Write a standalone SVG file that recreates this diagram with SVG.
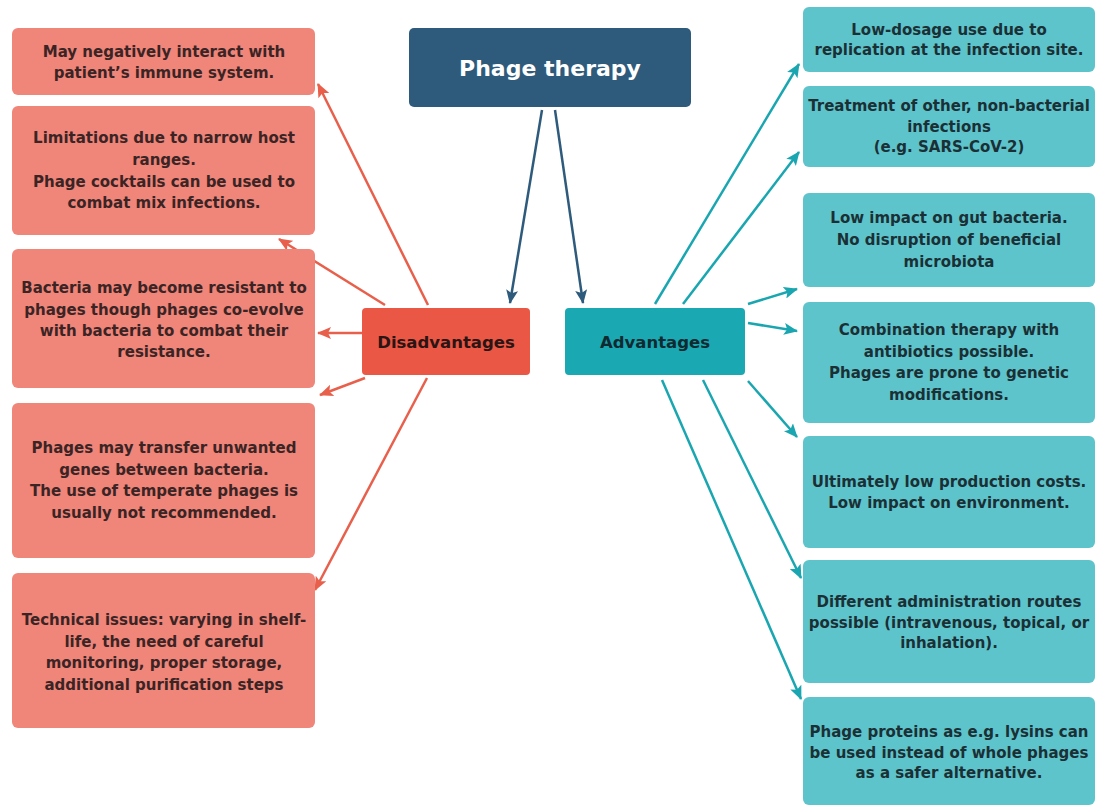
<svg xmlns="http://www.w3.org/2000/svg" width="1097" height="807" viewBox="0 0 1097 807">
<style>
text{font-family:"DejaVu Sans","Liberation Sans",sans-serif;font-weight:bold;text-anchor:middle}
.t{font-size:15px}
.dl{fill:#3a2424}
.al{fill:#1b3035}
.lb{fill:#f0857a}
.rb{fill:#5ec4cc}
.rl{stroke:#e8604c;stroke-width:2.5;fill:none}
.tl{stroke:#1aa6b0;stroke-width:2.5;fill:none}
.bl{stroke:#2e5a7c;stroke-width:2.5;fill:none}
</style>
<defs>
<marker id="ar" markerUnits="userSpaceOnUse" markerWidth="14" markerHeight="12" refX="13" refY="6" orient="auto"><path d="M0,0 L14,6 L0,12 L3,6 z" fill="#e8604c"/></marker>
<marker id="at" markerUnits="userSpaceOnUse" markerWidth="14" markerHeight="12" refX="13" refY="6" orient="auto"><path d="M0,0 L14,6 L0,12 L3,6 z" fill="#1aa6b0"/></marker>
<marker id="ab" markerUnits="userSpaceOnUse" markerWidth="14" markerHeight="12" refX="13" refY="6" orient="auto"><path d="M0,0 L14,6 L0,12 L3,6 z" fill="#2e5a7c"/></marker>
</defs>
<rect width="1097" height="807" fill="#ffffff"/>
<g id="connectors">
<line class="bl" x1="542" y1="110" x2="510" y2="303" marker-end="url(#ab)"/>
<line class="bl" x1="555" y1="110" x2="583" y2="303" marker-end="url(#ab)"/>
<line class="rl" x1="428" y1="305" x2="318" y2="84" marker-end="url(#ar)"/>
<line class="rl" x1="385" y1="305" x2="279" y2="239" marker-end="url(#ar)"/>
<line class="rl" x1="362" y1="333" x2="318" y2="333" marker-end="url(#ar)"/>
<line class="rl" x1="365" y1="378" x2="320" y2="395" marker-end="url(#ar)"/>
<line class="rl" x1="427" y1="378" x2="315" y2="590" marker-end="url(#ar)"/>
<line class="tl" x1="655" y1="304" x2="799" y2="64" marker-end="url(#at)"/>
<line class="tl" x1="683" y1="304" x2="799" y2="152" marker-end="url(#at)"/>
<line class="tl" x1="748" y1="304" x2="797" y2="289" marker-end="url(#at)"/>
<line class="tl" x1="748" y1="323" x2="797" y2="331" marker-end="url(#at)"/>
<line class="tl" x1="748" y1="381" x2="797" y2="437" marker-end="url(#at)"/>
<line class="tl" x1="703" y1="380" x2="801" y2="578" marker-end="url(#at)"/>
<line class="tl" x1="662" y1="380" x2="801" y2="699" marker-end="url(#at)"/>
</g>
<g id="title">
<rect x="409" y="28" width="282" height="79" rx="5" fill="#2e5a7c"/>
<text x="550" y="76" style="font-size:22px" fill="#ffffff">Phage therapy</text>
</g>
<g id="disadvantages">
<rect x="362" y="308" width="168" height="67" rx="4" fill="#ea5744"/>
<text x="446" y="348" style="font-size:16.5px" fill="#2a1414">Disadvantages</text>
</g>
<g id="advantages">
<rect x="565" y="308" width="180" height="67" rx="4" fill="#1aa8b3"/>
<text x="655" y="348" style="font-size:16.5px" fill="#0f2a30">Advantages</text>
</g>
<g id="d1">
<rect class="lb" x="12" y="28" width="303" height="67" rx="6"/>
<text class="t dl" x="164" y="57">May negatively interact with</text>
<text class="t dl" x="164" y="78">patient’s immune system.</text>
</g>
<g id="d2">
<rect class="lb" x="12" y="106" width="303" height="129" rx="6"/>
<text class="t dl" x="164" y="143">Limitations due to narrow host</text>
<text class="t dl" x="164" y="165">ranges.</text>
<text class="t dl" x="164" y="187">Phage cocktails can be used to</text>
<text class="t dl" x="164" y="208">combat mix infections.</text>
</g>
<g id="d3">
<rect class="lb" x="12" y="249" width="303" height="139" rx="6"/>
<text class="t dl" x="164" y="293">Bacteria may become resistant to</text>
<text class="t dl" x="164" y="315">phages though phages co-evolve</text>
<text class="t dl" x="164" y="336">with bacteria to combat their</text>
<text class="t dl" x="164" y="357">resistance.</text>
</g>
<g id="d4">
<rect class="lb" x="12" y="403" width="303" height="155" rx="6"/>
<text class="t dl" x="164" y="453">Phages may transfer unwanted</text>
<text class="t dl" x="164" y="475">genes between bacteria.</text>
<text class="t dl" x="164" y="496">The use of temperate phages is</text>
<text class="t dl" x="164" y="518">usually not recommended.</text>
</g>
<g id="d5">
<rect class="lb" x="12" y="573" width="303" height="155" rx="6"/>
<text class="t dl" x="164" y="625">Technical issues: varying in shelf-</text>
<text class="t dl" x="164" y="647">life, the need of careful</text>
<text class="t dl" x="164" y="668">monitoring, proper storage,</text>
<text class="t dl" x="164" y="690">additional purification steps</text>
</g>
<g id="a1">
<rect class="rb" x="803" y="7" width="292" height="65" rx="6"/>
<text class="t al" x="949" y="35">Low-dosage use due to</text>
<text class="t al" x="949" y="55">replication at the infection site.</text>
</g>
<g id="a2">
<rect class="rb" x="803" y="86" width="292" height="81" rx="6"/>
<text class="t al" x="949" y="111">Treatment of other, non-bacterial</text>
<text class="t al" x="949" y="132">infections</text>
<text class="t al" x="949" y="152">(e.g. SARS-CoV-2)</text>
</g>
<g id="a3">
<rect class="rb" x="803" y="193" width="292" height="94" rx="6"/>
<text class="t al" x="949" y="223">Low impact on gut bacteria.</text>
<text class="t al" x="949" y="245">No disruption of beneficial</text>
<text class="t al" x="949" y="267">microbiota</text>
</g>
<g id="a4">
<rect class="rb" x="803" y="302" width="292" height="121" rx="6"/>
<text class="t al" x="949" y="335">Combination therapy with</text>
<text class="t al" x="949" y="357">antibiotics possible.</text>
<text class="t al" x="949" y="378">Phages are prone to genetic</text>
<text class="t al" x="949" y="400">modifications.</text>
</g>
<g id="a5">
<rect class="rb" x="803" y="436" width="292" height="112" rx="6"/>
<text class="t al" x="949" y="487">Ultimately low production costs.</text>
<text class="t al" x="949" y="508">Low impact on environment.</text>
</g>
<g id="a6">
<rect class="rb" x="803" y="560" width="292" height="123" rx="6"/>
<text class="t al" x="949" y="607">Different administration routes</text>
<text class="t al" x="949" y="628">possible (intravenous, topical, or</text>
<text class="t al" x="949" y="648">inhalation).</text>
</g>
<g id="a7">
<rect class="rb" x="803" y="697" width="292" height="108" rx="6"/>
<text class="t al" x="949" y="737">Phage proteins as e.g. lysins can</text>
<text class="t al" x="949" y="758">be used instead of whole phages</text>
<text class="t al" x="949" y="778">as a safer alternative.</text>
</g>
</svg>
